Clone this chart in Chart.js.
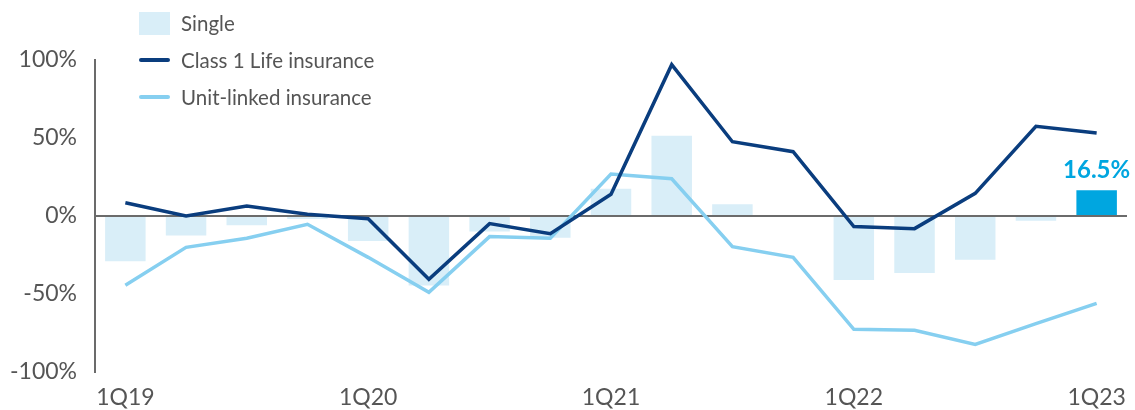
<!DOCTYPE html>
<html>
<head>
<meta charset="utf-8">
<script src="https://cdn.jsdelivr.net/npm/chart.js@4/dist/chart.umd.min.js"></script>
<style>
  html, body { margin: 0; padding: 0; background: #fff; }
  #wrap { position: relative; width: 1135px; height: 410px; }
  #legend { position: absolute; left: 139px; top: 0; font-family: Lato, "Noto Sans", sans-serif; font-size: 20.5px; color: #555; }
  .item { position: absolute; left: 0; height: 24px; display: flex; align-items: center; white-space: nowrap; }
  .swatch { width: 31px; margin-right: 11px; flex: none; }
</style>
</head>
<body>
<div id="wrap">
  <canvas id="c" width="1135" height="410"></canvas>
  <div id="legend"></div>
</div>
<script>
// Quarterly growth, %
const quarters = ['1Q19', '2Q19', '3Q19', '4Q19', '1Q20', '2Q20', '3Q20', '4Q20',
                  '1Q21', '2Q21', '3Q21', '4Q21', '1Q22', '2Q22', '3Q22', '4Q22', '1Q23'];
const single     = [-29, -12.5, -6, -2, -16, -44.5, -10, -14, 17.5, 51.5, 7.5, 0, -41, -36.5, -28, -3, 16.5];
const class1Life = [8.5, 0, 6.4, 1.1, -1.7, -40.6, -4.9, -11.3, 13.9, 97, 47.6, 41.2, -6.8, -8.1, 14.5, 57.5, 53.2];
const unitLinked = [-44.4, -20.1, -14.3, -5.3, -26.5, -48.9, -13.2, -14.3, 26.9, 23.9, -19.7, -26.5, -72.6, -73.3, -82.3, -69, -56];
const yTicks = [-100, -50, 0, 50, 100];

const barLight = '#d9eef8';
const barHighlight = '#00a6e0';
const navy = '#0a3d7e';
const sky = '#86cff0';
const textGrey = '#555555';
const fontFamily = 'Lato, "Noto Sans", sans-serif';

const lastIdx = quarters.length - 1;

// Value label over the latest quarter's bar
const lastBarLabel = {
  id: 'lastBarLabel',
  afterDatasetsDraw(chart) {
    const meta = chart.getDatasetMeta(0);
    const bar = meta.data[lastIdx];
    const ctx = chart.ctx;
    ctx.save();
    ctx.font = 'bold 24px ' + fontFamily;
    ctx.fillStyle = barHighlight;
    ctx.textAlign = 'center';
    ctx.textBaseline = 'bottom';
    ctx.fillText(single[lastIdx].toFixed(1) + '%', bar.x, bar.y - 8);
    ctx.restore();
  }
};

const chart = new Chart(document.getElementById('c'), {
  type: 'bar',
  data: {
    labels: quarters,
    datasets: [
      {
        label: 'Single',
        data: single,
        backgroundColor: quarters.map((q, i) => i === lastIdx ? barHighlight : barLight),
        categoryPercentage: 0.667,
        barPercentage: 1,
        order: 3
      },
      {
        type: 'line',
        label: 'Class 1 Life insurance',
        data: class1Life,
        borderColor: navy,
        borderWidth: 3.5,
        pointRadius: 0,
        tension: 0,
        order: 1
      },
      {
        type: 'line',
        label: 'Unit-linked insurance',
        data: unitLinked,
        borderColor: sky,
        borderWidth: 3.5,
        pointRadius: 0,
        tension: 0,
        order: 2
      }
    ]
  },
  options: {
    responsive: false,
    animation: false,
    layout: { padding: { top: 60, right: 8, left: 0, bottom: 0 } },
    plugins: {
      legend: { display: false },
      tooltip: { enabled: false }
    },
    scales: {
      x: {
        offset: true,
        grid: { display: false, drawTicks: false },
        border: { display: false },
        ticks: {
          autoSkip: false,
          maxRotation: 0,
          padding: 12,
          color: textGrey,
          font: { family: fontFamily, size: 23 },
          callback: (v, i) => quarters[i].startsWith('1Q') ? quarters[i] : ''
        },
        afterFit: s => { s.height = 38; s.paddingLeft = 0; s.paddingRight = 0; }
      },
      y: {
        min: yTicks[0],
        max: yTicks[yTicks.length - 1],
        afterBuildTicks: s => { s.ticks = yTicks.map(v => ({ value: v })); },
        grid: {
          drawTicks: false,
          color: c => c.tick && c.tick.value === 0 ? '#6b6b6b' : 'rgba(0,0,0,0)',
          lineWidth: 2
        },
        border: { display: true, color: '#6b6b6b', width: 2 },
        ticks: {
          padding: 18,
          color: textGrey,
          font: { family: fontFamily, size: 23 },
          callback: v => v + '%'
        },
        afterFit: s => { s.width = 95; s.paddingTop = 0; s.paddingBottom = 0; }
      }
    }
  },
  plugins: [lastBarLabel]
});

// Legend built from the chart's datasets
const legend = document.getElementById('legend');
const rowTops = [11, 48, 85];
chart.data.datasets.forEach((ds, i) => {
  const item = document.createElement('div');
  item.className = 'item';
  item.style.top = rowTops[i] + 'px';
  const sw = document.createElement('span');
  sw.className = 'swatch';
  if (ds.type === 'line') {
    sw.style.height = '4px';
    sw.style.background = ds.borderColor;
    sw.style.borderRadius = '2px';
  } else {
    sw.style.height = '23px';
    sw.style.background = barLight;
  }
  const tx = document.createElement('span');
  tx.textContent = ds.label;
  item.appendChild(sw);
  item.appendChild(tx);
  legend.appendChild(item);
});
</script>
</body>
</html>
